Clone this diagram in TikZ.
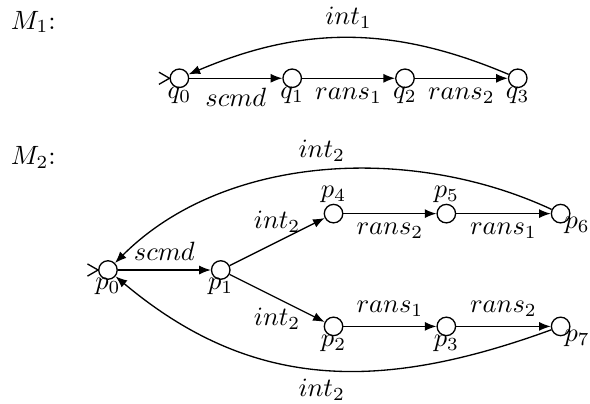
\documentclass[tikz,border=0pt]{standalone}
\usetikzlibrary{arrows.meta}
\begin{document}
\begin{tikzpicture}
        [line width=0.5pt,
         loc/.style={circle,draw,inner sep=0pt,minimum size=7pt},
         trans/.style={-{Latex[length=4.4pt,width=3.4pt]}},
         every label/.style={inner sep=0pt},label distance=-0.8pt]
        \useasboundingbox (-1.436,-1.769) rectangle (6.411,3.591);
        %M1
        \node[anchor=base west,inner sep=0pt] (M1) at (-1.30,3.205) {$M_1$:};
        \node[loc,label=below:$q_0$]  (Q0) at (0.95,2.55)  {};
        \node[loc,label=below:$q_1$]  (Q1) at (2.45,2.55)  {};
        \node[loc,label=below:$q_2$]  (Q2) at (3.95,2.55)  {};
        \node[loc,label=below:$q_3$]  (Q3) at (5.45,2.55)  {};

        \draw ([shift={(-4pt,2.3pt)}]Q0.west) -- (Q0.west) -- ([shift={(-4pt,-2.3pt)}]Q0.west);
        \draw[trans]
        (Q0)    edge    node[below] {$scmd$}    (Q1)
        (Q1)    edge    node[below] {$rans_1$}  (Q2)
        (Q2)    edge    node[below] {$rans_2$}  (Q3)
        (Q3)    edge[out=157,in=23]  node[above] {$int_1$}  (Q0);

        %M2
        \node[anchor=base west,inner sep=0pt] (M2) at (-1.30,1.397) {$M_2$:};
        \node[loc,label=below:$p_0$]  (P0) at (0,0)       {};
        \node[loc,label=below:$p_1$]  (P1) at (1.5,0)     {};
        \node[loc,label={[label distance=0pt]above:$p_4$}]  (P4) at (3,0.75)    {};
        \node[loc,label={[label distance=0pt]above:$p_5$}]  (P5) at (4.5,0.75)  {};
        \node[loc,label={[label distance=-2pt]below right:$p_6$}]  (P6) at (6.02,0.75)  {};
        \node[loc,label=below:$p_2$]  (P2) at (3,-0.75)   {};
        \node[loc,label=below:$p_3$]  (P3) at (4.5,-0.75) {};
        \node[loc,label={[label distance=-2pt]below right:$p_7$}]  (P7) at (6.02,-0.75) {};

        \draw ([shift={(-4pt,2.3pt)}]P0.west) -- (P0.west) -- ([shift={(-4pt,-2.3pt)}]P0.west);
        \draw[trans]
        (P0)    edge    node[above] {$scmd$}    (P1)
        (P1)    edge    node[above] {$int_2$}   (P4)
        (P4)    edge    node[below] {$rans_2$}  (P5)
        (P5)    edge    node[below] {$rans_1$}  (P6)
        (P1)    edge    node[below] {$int_2$}   (P2)
        (P2)    edge    node[above] {$rans_1$}  (P3)
        (P3)    edge    node[above] {$rans_2$}  (P7)
        (P6)    edge[out=155,in=45,looseness=0.9]   node[above] {$int_2$} (P0)
        (P7)    edge[out=200,in=-40,looseness=1.05] node[below] {$int_2$} (P0);
\end{tikzpicture}
\end{document}
